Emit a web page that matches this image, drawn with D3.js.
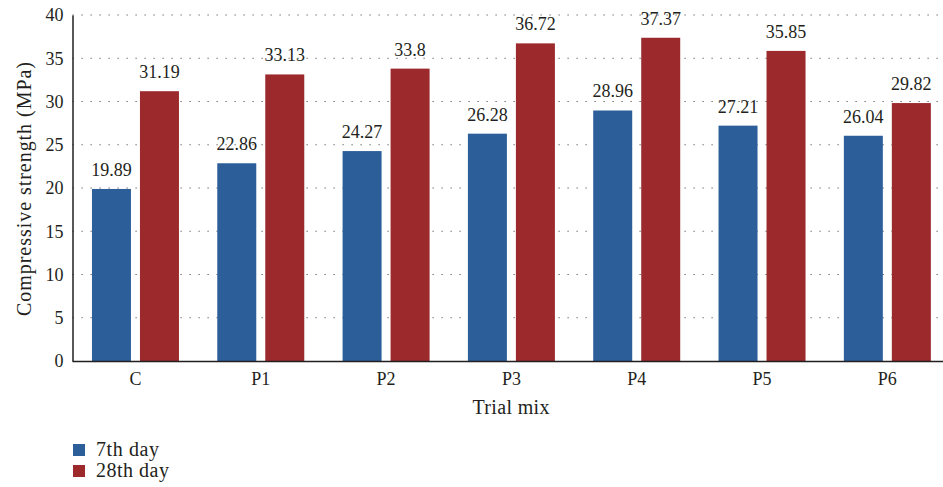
<!DOCTYPE html>
<html><head><meta charset="utf-8">
<script src="https://cdn.jsdelivr.net/npm/d3@7"></script>
<style>body{margin:0;background:#fff}svg{display:block}</style>
</head><body><svg id="c" width="943" height="487"></svg>
<script>
const categories = ["C","P1","P2","P3","P4","P5","P6"];
const day7 = [19.89,22.86,24.27,26.28,28.96,27.21,26.04];
const day28 = [31.19,33.13,33.8,36.72,37.37,35.85,29.82];
const day7Labels = ["19.89","22.86","24.27","26.28","28.96","27.21","26.04"];
const day28Labels = ["31.19","33.13","33.8","36.72","37.37","35.85","29.82"];
const yTicks = [0,5,10,15,20,25,30,35,40];
const seriesNames = ["7th day","28th day"];
const colors = ["#2c5f9a","#9c2a2d"];

(function(){
const FONT = "Liberation Serif";
const INK = "#231f20";
const FS = 18, FT = 20;
const svg = d3.select("#c");
const leftX = 72.5, bottomY = 361, topY = 15;
const x = d3.scaleBand().domain(categories).range([72.8, 950]).paddingInner(0).paddingOuter(0);
const y = d3.scaleLinear().domain([0,40]).range([bottomY, topY]);
const barW = 39, gap = 9;

svg.append("g").selectAll("line").data(yTicks.filter(d=>d>0)).join("line")
  .attr("x1", leftX).attr("x2", 943).attr("y1", d=>y(d)).attr("y2", d=>y(d))
  .attr("stroke", "#555").attr("stroke-width", 1.2).attr("stroke-dasharray", "1.2,7.8");

const series = [day7, day28];
const labels = [day7Labels, day28Labels];
series.forEach((vals, s) => {
  const g = svg.append("g");
  g.selectAll("rect").data(categories).join("rect")
    .attr("x", (c) => x(c) + x.bandwidth()/2 - barW - gap/2 + s*(barW+gap))
    .attr("width", barW)
    .attr("y", (c,i) => y(vals[i]))
    .attr("height", (c,i) => y(0) - y(vals[i]))
    .attr("fill", colors[s]);
  g.selectAll("text").data(categories).join("text")
    .attr("x", (c) => x(c) + x.bandwidth()/2 - barW/2 - gap/2 + s*(barW+gap))
    .attr("y", (c,i) => y(vals[i]) - 13)
    .attr("text-anchor", "middle").attr("font-size", FS).attr("font-family", FONT).attr("fill", INK)
    .text((c,i) => labels[s][i]);
});

const yAxis = svg.append("g").attr("transform", `translate(${leftX},0)`)
  .call(d3.axisLeft(y).tickValues(yTicks).tickSize(0).tickPadding(9));
yAxis.select(".domain").attr("stroke", INK).attr("stroke-width", 1.5);
yAxis.selectAll("text").attr("font-size", FS).attr("font-family", FONT).attr("fill", INK);

const xAxis = svg.append("g").attr("transform", `translate(0,${bottomY})`)
  .call(d3.axisBottom(x).tickSize(0).tickPadding(11));
xAxis.select(".domain").attr("d", `M${leftX},0.5H943`).attr("stroke", INK).attr("stroke-width", 1.5);
xAxis.selectAll("text").attr("font-size", FS).attr("font-family", FONT).attr("fill", INK);

svg.append("text").attr("x", 511).attr("y", 414).attr("text-anchor","middle")
  .attr("font-size", FT).attr("font-family", FONT).attr("fill", INK)
  .attr("textLength", 77).attr("lengthAdjust", "spacing").text("Trial mix");
svg.append("text").attr("transform", "translate(31,189) rotate(-90)").attr("text-anchor","middle")
  .attr("font-size", FT).attr("font-family", FONT).attr("fill", INK)
  .attr("textLength", 254).attr("lengthAdjust", "spacing").text("Compressive strength (MPa)");

const lg = svg.append("g");
const lgLen = [63, 73];
seriesNames.forEach((n, i) => {
  lg.append("rect").attr("x", 73).attr("y", 444 + i*21).attr("width", 12).attr("height", 12).attr("fill", colors[i]);
  lg.append("text").attr("x", 96).attr("y", 456 + i*21).attr("font-size", FT).attr("font-family", FONT).attr("fill", INK)
    .attr("textLength", lgLen[i]).attr("lengthAdjust", "spacing").text(n);
});
})();
</script></body></html>
